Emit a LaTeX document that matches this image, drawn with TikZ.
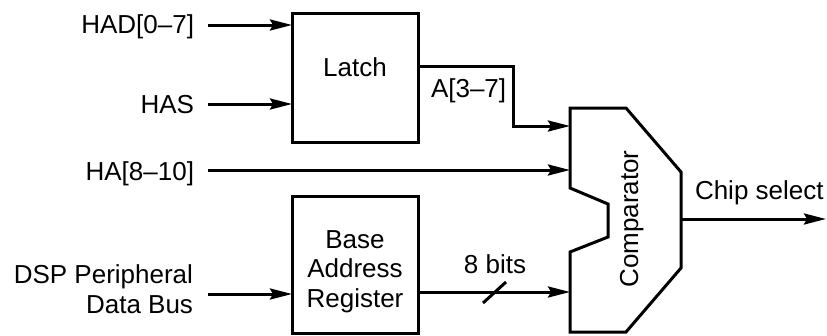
\documentclass[tikz,border=0pt]{standalone}
\usepackage{fontspec}
\setmainfont{Liberation Sans}
\usetikzlibrary{arrows.meta}
\tikzset{
  wire/.style={line width=3pt},
  sig/.style={wire,-{Stealth[length=22pt,width=11pt,inset=3pt]}},
  blockbox/.style={draw,line width=3pt,minimum width=126pt,inner sep=0pt,outer sep=0pt},
  txt/.style={font=\fontsize{26}{29.5}\selectfont,inner sep=0pt,outer sep=0pt},
}
\begin{document}
\begin{tikzpicture}[x=1pt,y=-1pt]
\useasboundingbox (0,0) rectangle (827,335);
% blocks
\node[blockbox,minimum height=129pt] (latch) at (355,77.5) {};
\node[txt,anchor=base] (latchtxt) at (355,76) {Latch};
\node[blockbox,minimum height=137pt] (bar) at (355,264.5) {};
\node[txt,anchor=base,align=center] (bartxt) at (355,307) {Base\\Address\\Register};
% comparator
\draw[line width=3pt,line join=miter]
  (570,108) -- (626,108) -- (681,172) -- (681,268) -- (626,332) -- (570,332)
  -- (570,252) -- (608,237) -- (608,204) -- (570,188) -- cycle;
\node[txt,rotate=90,anchor=base] (cmptxt) at (638,219) {Comparator};
\coordinate (cmpA) at (570,126);
\coordinate (cmpB) at (570,170);
\coordinate (cmpC) at (570,292);
\coordinate (cmpO) at (681,219);
% input labels
\node[txt,anchor=base east] (had) at (194,33) {HAD[0–7]};
\node[txt,anchor=base east] (has) at (194,113) {HAS};
\node[txt,anchor=base east] (ha) at (194,180) {HA[8–10]};
\node[txt,anchor=base east,align=right] (dsp) at (193,313) {DSP Peripheral\\Data Bus};
\coordinate (hadS) at (208,25);
\coordinate (hasS) at (208,104);
\coordinate (haS) at (208,170);
\coordinate (dspS) at (208,294);
% connectors
\draw[sig] (hadS) -- (hadS -| latch.west);
\draw[sig] (hasS) -- (hasS -| latch.west);
\draw[sig] (haS) -- (cmpB);
\draw[sig] (dspS) -- (dspS -| bar.west);
\coordinate (lo) at (418,66);
\draw[sig] (lo) -- (513,66) -- (513,126) -- (cmpA);
\node[txt,anchor=base west] (alabel) at (431,97) {A[3–7]};
\coordinate (bo) at (418,292);
\draw[sig] (bo) -- (cmpC);
\draw[wire] (483,303) -- (506,282);
\node[txt,anchor=base] (bits) at (495,273) {8 bits};
\coordinate (cs) at (826,219);
\draw[sig] (cmpO) -- (cs);
\node[txt,anchor=base west] (cslabel) at (695,199) {Chip select};
\end{tikzpicture}
\end{document}
